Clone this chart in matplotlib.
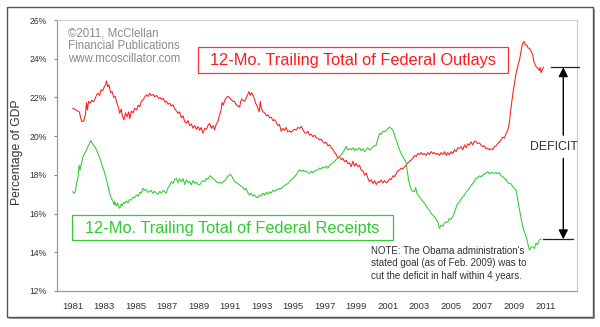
import matplotlib
matplotlib.use("Agg")
import matplotlib.pyplot as plt
from matplotlib.patches import Rectangle

plt.rcParams['font.family'] = ['Liberation Sans', 'DejaVu Sans']

# --- data: (year, % of GDP), 12-month trailing totals ---
outlays_pts = [
    (1981.00, 21.44), (1981.15, 21.38), (1981.30, 21.30), (1981.42, 21.25), (1981.50, 20.95),
    (1981.58, 20.75), (1981.70, 20.78), (1981.80, 21.10), (1981.87, 21.72), (1981.93, 21.35),
    (1982.00, 21.80), (1982.10, 21.70), (1982.20, 21.85), (1982.30, 21.78), (1982.40, 21.90),
    (1982.50, 22.10), (1982.60, 22.22), (1982.70, 22.10), (1982.80, 22.40), (1982.90, 22.35),
    (1983.00, 22.55), (1983.08, 22.65), (1983.14, 22.85), (1983.22, 22.55), (1983.30, 22.65),
    (1983.40, 22.25), (1983.50, 22.30), (1983.60, 22.00), (1983.70, 22.05), (1983.80, 21.70),
    (1983.90, 21.50), (1983.98, 21.18), (1984.08, 21.40), (1984.15, 21.05), (1984.25, 20.84),
    (1984.35, 21.20), (1984.45, 21.00), (1984.55, 21.25), (1984.62, 20.90), (1984.72, 21.30),
    (1984.82, 21.20), (1984.93, 21.44), (1985.05, 21.35), (1985.15, 21.60), (1985.25, 21.52),
    (1985.35, 21.80), (1985.46, 21.87), (1985.55, 22.00), (1985.67, 22.13), (1985.78, 22.05),
    (1985.88, 22.22), (1985.98, 22.10), (1986.10, 22.15), (1986.20, 22.04), (1986.32, 22.10),
    (1986.45, 21.95), (1986.55, 22.00), (1986.62, 21.90), (1986.75, 21.95), (1986.85, 21.75),
    (1986.95, 21.80), (1987.04, 21.65), (1987.15, 21.70), (1987.25, 21.55), (1987.36, 21.62),
    (1987.48, 21.40), (1987.58, 21.30), (1987.68, 21.18), (1987.78, 21.25), (1987.89, 20.95),
    (1988.00, 21.05), (1988.10, 20.75), (1988.21, 20.66), (1988.32, 20.80), (1988.42, 20.55),
    (1988.53, 20.62), (1988.63, 20.41), (1988.74, 20.55), (1988.85, 20.35), (1988.95, 20.50),
    (1989.05, 20.30), (1989.15, 20.45), (1989.26, 20.15), (1989.38, 20.40), (1989.48, 20.35),
    (1989.58, 20.55), (1989.69, 20.66), (1989.80, 20.40), (1989.90, 20.55), (1990.00, 20.32),
    (1990.10, 20.60), (1990.21, 20.75), (1990.30, 21.05), (1990.40, 21.30), (1990.48, 21.75),
    (1990.55, 21.60), (1990.65, 21.85), (1990.75, 22.00), (1990.85, 22.05), (1990.96, 21.98),
    (1991.05, 21.90), (1991.15, 21.80), (1991.27, 21.78), (1991.38, 21.62), (1991.50, 21.55),
    (1991.59, 21.50), (1991.65, 21.75), (1991.72, 21.92), (1991.80, 21.85), (1991.90, 21.80),
    (1992.00, 21.95), (1992.10, 22.15), (1992.18, 22.30), (1992.26, 22.10), (1992.35, 22.25),
    (1992.43, 22.13), (1992.52, 21.95), (1992.60, 21.70), (1992.68, 21.60), (1992.78, 21.35),
    (1992.84, 21.26), (1992.90, 21.80), (1992.96, 21.45), (1993.07, 21.26), (1993.18, 21.20),
    (1993.30, 21.05), (1993.40, 21.10), (1993.49, 20.95), (1993.60, 20.98), (1993.70, 20.80),
    (1993.82, 20.85), (1993.92, 20.70), (1994.02, 20.55), (1994.12, 20.60), (1994.23, 20.25),
    (1994.33, 20.40), (1994.43, 20.30), (1994.53, 20.45), (1994.65, 20.22), (1994.75, 20.28),
    (1994.85, 20.20), (1994.98, 20.30), (1995.08, 20.35), (1995.18, 20.32), (1995.30, 20.45),
    (1995.40, 20.40), (1995.50, 20.50), (1995.60, 20.35), (1995.70, 20.20), (1995.81, 20.15),
    (1995.92, 20.25), (1996.03, 20.05), (1996.14, 20.10), (1996.24, 19.97), (1996.35, 20.05),
    (1996.45, 19.92), (1996.56, 19.89), (1996.66, 19.80), (1996.76, 19.85), (1996.88, 19.70),
    (1996.98, 19.63), (1997.08, 19.68), (1997.20, 19.50), (1997.30, 19.55), (1997.40, 19.40),
    (1997.52, 19.30), (1997.62, 19.15), (1997.72, 19.05), (1997.82, 18.86), (1997.92, 18.95),
    (1998.03, 18.78), (1998.14, 18.85), (1998.25, 18.68), (1998.36, 18.75), (1998.46, 18.58),
    (1998.57, 18.62), (1998.67, 18.42), (1998.78, 18.70), (1998.88, 18.45), (1998.98, 18.60),
    (1999.09, 18.42), (1999.20, 18.50), (1999.30, 18.25), (1999.42, 18.20), (1999.52, 17.99),
    (1999.62, 18.10), (1999.72, 17.85), (1999.83, 17.65), (1999.95, 17.75), (2000.05, 17.55),
    (2000.15, 17.70), (2000.26, 17.50), (2000.36, 17.65), (2000.46, 17.60), (2000.57, 17.74),
    (2000.68, 17.58), (2000.78, 17.70), (2000.90, 17.60), (2001.00, 17.65), (2001.10, 17.80),
    (2001.20, 17.75), (2001.32, 17.95), (2001.42, 17.91), (2001.52, 18.05), (2001.62, 18.20),
    (2001.74, 18.25), (2001.85, 18.35), (2001.95, 18.30), (2002.05, 18.42), (2002.16, 18.50),
    (2002.26, 18.62), (2002.37, 18.70), (2002.48, 18.77), (2002.58, 18.85), (2002.68, 19.00),
    (2002.80, 18.95), (2002.90, 19.11), (2003.00, 19.05), (2003.10, 19.15), (2003.22, 19.05),
    (2003.32, 19.11), (2003.42, 19.00), (2003.54, 19.15), (2003.64, 19.05), (2003.75, 19.20),
    (2003.86, 19.10), (2003.96, 19.15), (2004.06, 19.05), (2004.17, 19.11), (2004.27, 19.00),
    (2004.38, 19.15), (2004.49, 19.05), (2004.60, 19.20), (2004.70, 19.00), (2004.80, 19.15),
    (2004.90, 19.03), (2005.00, 19.20), (2005.12, 19.10), (2005.22, 19.30), (2005.33, 19.20),
    (2005.44, 19.40), (2005.54, 19.37), (2005.64, 19.45), (2005.75, 19.30), (2005.86, 19.55),
    (2005.96, 19.40), (2006.06, 19.60), (2006.17, 19.54), (2006.28, 19.70), (2006.38, 19.55),
    (2006.50, 19.75), (2006.60, 19.71), (2006.70, 19.62), (2006.81, 19.65), (2006.92, 19.52),
    (2007.02, 19.46), (2007.12, 19.50), (2007.23, 19.35), (2007.33, 19.38), (2007.44, 19.29),
    (2007.55, 19.35), (2007.66, 19.30), (2007.76, 19.46), (2007.86, 19.50), (2007.97, 19.62),
    (2008.08, 19.70), (2008.18, 19.80), (2008.28, 19.95), (2008.40, 19.90), (2008.50, 20.15),
    (2008.60, 20.30), (2008.67, 20.49), (2008.75, 21.00), (2008.82, 21.52), (2008.90, 22.00),
    (2008.96, 22.38), (2009.05, 22.80), (2009.13, 23.25), (2009.22, 23.55), (2009.30, 23.80),
    (2009.35, 23.93), (2009.42, 24.25), (2009.50, 24.62), (2009.58, 24.85), (2009.66, 24.88),
    (2009.72, 24.70), (2009.81, 24.71), (2009.90, 24.55), (2009.98, 24.54), (2010.08, 24.40),
    (2010.19, 24.19), (2010.25, 23.90), (2010.30, 23.76), (2010.40, 23.60), (2010.51, 23.50),
    (2010.60, 23.40), (2010.66, 23.55), (2010.72, 23.28), (2010.80, 23.45), (2010.87, 23.56),
]

receipts_pts = [
    (1981.00, 17.13), (1981.08, 17.05), (1981.15, 17.10), (1981.25, 17.60), (1981.34, 17.91),
    (1981.40, 18.50), (1981.46, 18.25), (1981.55, 18.60), (1981.65, 18.94), (1981.75, 19.10),
    (1981.87, 19.28), (1981.95, 19.45), (1982.05, 19.60), (1982.14, 19.77), (1982.22, 19.65),
    (1982.30, 19.55), (1982.40, 19.46), (1982.50, 19.30), (1982.60, 19.11), (1982.70, 18.90),
    (1982.82, 18.60), (1982.92, 18.35), (1983.03, 18.08), (1983.14, 17.75), (1983.24, 17.39),
    (1983.34, 17.05), (1983.45, 16.79), (1983.55, 16.65), (1983.62, 16.45), (1983.66, 16.62),
    (1983.75, 16.40), (1983.85, 16.55), (1983.92, 16.35), (1983.98, 16.27), (1984.08, 16.50),
    (1984.15, 16.40), (1984.22, 16.58), (1984.30, 16.53), (1984.40, 16.65), (1984.50, 16.55),
    (1984.60, 16.72), (1984.72, 16.70), (1984.82, 16.85), (1984.92, 16.80), (1985.04, 16.96),
    (1985.15, 16.90), (1985.25, 17.10), (1985.35, 17.05), (1985.46, 17.31), (1985.56, 17.20),
    (1985.66, 17.25), (1985.77, 17.10), (1985.88, 17.13), (1985.98, 17.20), (1986.08, 17.05),
    (1986.20, 17.15), (1986.30, 17.05), (1986.42, 17.00), (1986.52, 17.15), (1986.62, 17.05),
    (1986.72, 17.20), (1986.83, 17.13), (1986.93, 17.05), (1987.03, 17.30), (1987.14, 17.45),
    (1987.26, 17.65), (1987.36, 17.55), (1987.46, 17.75), (1987.57, 17.82), (1987.68, 17.60),
    (1987.78, 17.80), (1987.89, 17.65), (1988.00, 17.80), (1988.10, 17.50), (1988.21, 17.74),
    (1988.32, 17.60), (1988.42, 17.65), (1988.53, 17.48), (1988.63, 17.70), (1988.74, 17.56),
    (1988.85, 17.62), (1988.95, 17.50), (1989.05, 17.48), (1989.15, 17.60), (1989.26, 17.70),
    (1989.38, 17.65), (1989.48, 17.82), (1989.58, 17.78), (1989.69, 17.95), (1989.79, 17.91),
    (1989.90, 17.80), (1990.00, 17.75), (1990.11, 17.65), (1990.22, 17.60), (1990.32, 17.62),
    (1990.43, 17.56), (1990.55, 17.65), (1990.65, 17.70), (1990.75, 17.82), (1990.88, 17.95),
    (1991.00, 18.03), (1991.08, 17.95), (1991.18, 17.80), (1991.27, 17.65), (1991.38, 17.60),
    (1991.48, 17.55), (1991.59, 17.48), (1991.70, 17.40), (1991.80, 17.35), (1991.90, 17.22),
    (1992.00, 17.30), (1992.10, 17.10), (1992.22, 16.96), (1992.32, 17.05), (1992.43, 16.90),
    (1992.54, 16.96), (1992.64, 16.85), (1992.75, 16.82), (1992.85, 16.95), (1992.96, 16.90),
    (1993.07, 17.05), (1993.18, 16.95), (1993.28, 17.10), (1993.38, 17.00), (1993.49, 17.13),
    (1993.60, 17.05), (1993.70, 17.20), (1993.82, 17.15), (1993.92, 17.22), (1994.02, 17.25),
    (1994.12, 17.30), (1994.23, 17.28), (1994.33, 17.39), (1994.44, 17.45), (1994.54, 17.50),
    (1994.65, 17.55), (1994.76, 17.65), (1994.86, 17.75), (1994.97, 17.80), (1995.08, 17.91),
    (1995.18, 18.00), (1995.30, 18.15), (1995.39, 18.25), (1995.50, 18.18), (1995.60, 18.25),
    (1995.71, 18.16), (1995.82, 18.20), (1995.92, 18.10), (1996.03, 18.08), (1996.14, 18.18),
    (1996.24, 18.12), (1996.35, 18.20), (1996.45, 18.25), (1996.56, 18.25), (1996.66, 18.35),
    (1996.76, 18.30), (1996.88, 18.40), (1996.98, 18.35), (1997.08, 18.45), (1997.19, 18.34),
    (1997.30, 18.50), (1997.40, 18.55), (1997.50, 18.62), (1997.61, 18.68), (1997.72, 18.80),
    (1997.82, 18.85), (1997.93, 18.95), (1998.04, 19.03), (1998.14, 19.15), (1998.25, 19.30),
    (1998.35, 19.46), (1998.45, 19.30), (1998.56, 19.35), (1998.67, 19.29), (1998.78, 19.40),
    (1998.88, 19.25), (1998.98, 19.35), (1999.09, 19.29), (1999.20, 19.40), (1999.30, 19.25),
    (1999.42, 19.35), (1999.52, 19.20), (1999.62, 19.30), (1999.72, 19.40), (1999.83, 19.29),
    (1999.95, 19.35), (2000.05, 19.45), (2000.15, 19.50), (2000.26, 19.54), (2000.36, 19.85),
    (2000.47, 20.15), (2000.57, 20.10), (2000.68, 20.25), (2000.78, 20.23), (2000.90, 20.30),
    (2001.00, 20.40), (2001.10, 20.46), (2001.20, 20.40), (2001.31, 20.32), (2001.42, 20.05),
    (2001.52, 19.80), (2001.63, 19.55), (2001.74, 19.29), (2001.84, 19.10), (2001.94, 18.94),
    (2002.05, 18.80), (2002.16, 18.60), (2002.23, 18.20), (2002.31, 17.74), (2002.40, 17.45),
    (2002.48, 17.22), (2002.58, 17.15), (2002.69, 17.13), (2002.76, 17.35), (2002.84, 17.05),
    (2002.92, 16.95), (2003.00, 16.87), (2003.10, 16.75), (2003.22, 16.62), (2003.32, 16.53),
    (2003.43, 16.40), (2003.53, 16.27), (2003.64, 16.15), (2003.75, 16.00), (2003.86, 15.90),
    (2003.96, 15.84), (2004.06, 15.70), (2004.17, 15.55), (2004.27, 15.24), (2004.38, 15.40),
    (2004.49, 15.35), (2004.58, 15.50), (2004.69, 15.58), (2004.80, 15.55), (2004.90, 15.75),
    (2005.00, 15.70), (2005.11, 15.84), (2005.22, 16.05), (2005.32, 16.30), (2005.43, 16.53),
    (2005.54, 16.60), (2005.64, 16.75), (2005.75, 16.87), (2005.86, 16.95), (2005.96, 17.10),
    (2006.06, 17.20), (2006.17, 17.31), (2006.28, 17.45), (2006.38, 17.55), (2006.50, 17.70),
    (2006.60, 17.82), (2006.70, 17.85), (2006.81, 17.95), (2006.92, 17.90), (2007.02, 17.99),
    (2007.12, 18.05), (2007.23, 18.10), (2007.34, 18.16), (2007.44, 18.05), (2007.55, 18.12),
    (2007.66, 18.10), (2007.76, 18.08), (2007.86, 18.12), (2007.97, 18.05), (2008.08, 18.11),
    (2008.18, 17.95), (2008.29, 17.90), (2008.39, 17.82), (2008.50, 17.75), (2008.60, 17.60),
    (2008.71, 17.56), (2008.80, 17.55), (2008.92, 17.39), (2009.02, 17.30), (2009.13, 17.22),
    (2009.22, 16.80), (2009.30, 16.40), (2009.35, 16.19), (2009.45, 15.75), (2009.56, 15.32),
    (2009.66, 15.05), (2009.77, 14.81), (2009.88, 14.45), (2009.98, 14.12), (2010.08, 14.25),
    (2010.19, 14.29), (2010.30, 14.20), (2010.40, 14.47), (2010.50, 14.40), (2010.61, 14.64),
    (2010.72, 14.67),
]

year_ticks = list(range(1981, 2012, 2))
pct_ticks = [12, 14, 16, 18, 20, 22, 24, 26]

outlay_years, outlays = zip(*outlays_pts)
receipt_years, receipts = zip(*receipts_pts)
deficit_top = outlays[-1]
deficit_bottom = receipts[-1]

W, H = 600, 327
fig = plt.figure(figsize=(W / 100, H / 100), dpi=100)
fig.patch.set_facecolor("white")


def fbox(x0, y0, x1, y1):
    # pixel box (top-left origin) -> figure fraction rectangle args
    return (x0 / W, 1 - y1 / H), (x1 - x0) / W, (y1 - y0) / H


# outer frame with a drop shadow
xy, w, h = fbox(9, 9, 595, 319)
fig.add_artist(Rectangle(xy, w, h, transform=fig.transFigure, facecolor="#9a9a9a",
                         edgecolor="none", zorder=0))
xy, w, h = fbox(7, 7, 593, 317)
fig.add_artist(Rectangle(xy, w, h, transform=fig.transFigure, facecolor="white",
                         edgecolor="#555555", linewidth=1.0, zorder=0))

ax = fig.add_axes([57 / W, 1 - 291 / H, 520 / W, 271 / H])
ax.set_zorder(1)
ax.patch.set_facecolor("white")

ax.plot(outlay_years, outlays, color="#ff1a1a", lw=0.75, zorder=3)
ax.plot(receipt_years, receipts, color="#2ecc2e", lw=0.75, zorder=3)

ax.set_xlim(1980, 2013)
ax.set_ylim(12, 26)
ax.set_xticks(year_ticks)
ax.set_xticklabels([str(y) for y in year_ticks])
ax.set_yticks(pct_ticks)
ax.set_yticklabels([f"{p}%" for p in pct_ticks])
ax.tick_params(axis="x", length=0, pad=8, labelsize=6.8, labelcolor="#333333")
ax.tick_params(axis="y", length=2.5, width=0.8, color="#888888", pad=5,
               labelsize=6.2, labelcolor="#333333")
for side in ["top", "right"]:
    ax.spines[side].set_color("#cccccc")
    ax.spines[side].set_linewidth(0.8)
for side in ["left", "bottom"]:
    ax.spines[side].set_color("#999999")
    ax.spines[side].set_linewidth(0.9)

# y axis title
fig.text(17 / W, 1 - 152 / H, "Percentage of GDP", rotation=90, fontsize=8.7,
         color="#333333", ha="center", va="center")

# copyright block
fig.text(68 / W, 1 - 28 / H, "©2011, McClellan\nFinancial Publications\nwww.mcoscillator.com",
         fontsize=8.3, color="#8a8a8a", ha="left", va="top", linespacing=1.05)

# series label boxes
xy, w, h = fbox(198, 47, 508, 73)
fig.add_artist(Rectangle(xy, w, h, transform=fig.transFigure, facecolor="white",
                         edgecolor="#ff3333", linewidth=0.9, zorder=2))
fig.text(353 / W, 1 - 60.5 / H, "12-Mo. Trailing Total of Federal Outlays",
         fontsize=11.8, color="#ff1a1a", ha="center", va="center", zorder=3)

xy, w, h = fbox(72, 215, 393, 240)
fig.add_artist(Rectangle(xy, w, h, transform=fig.transFigure, facecolor="white",
                         edgecolor="#33cc33", linewidth=0.9, zorder=2))
fig.text(232 / W, 1 - 228 / H, "12-Mo. Trailing Total of Federal Receipts",
         fontsize=11.8, color="#2ecc2e", ha="center", va="center", zorder=3)

# deficit bracket
ax.plot([2011.37, 2013.15], [deficit_top, deficit_top], color="#222222", lw=0.9,
        clip_on=False, zorder=4)
ax.plot([2010.87, 2012.77], [deficit_bottom, deficit_bottom], color="#222222", lw=0.9,
        clip_on=False, zorder=4)
arrow_x = 2012.13
arrow_kw = dict(arrowstyle="-|>", color="black", lw=1.0, mutation_scale=14,
                shrinkA=0, shrinkB=0)
ax.annotate("", xy=(arrow_x, deficit_top), xytext=(arrow_x, 20.05),
            arrowprops=arrow_kw, annotation_clip=False, zorder=4)
ax.annotate("", xy=(arrow_x, deficit_bottom), xytext=(arrow_x, 18.85),
            arrowprops=arrow_kw, annotation_clip=False, zorder=4)
ax.text(2011.56, 19.44, "DEFICIT", fontsize=8.9, color="#333333",
        ha="center", va="center", zorder=4)

ax.text(1999.9, 14.32,
        "NOTE: The Obama administration's\nstated goal (as of Feb. 2009) was to\n"
        "cut the deficit in half within 4 years.",
        fontsize=7.0, color="#333333", ha="left", va="top", linespacing=1.3, zorder=4)

fig.savefig("out.png", dpi=100)
